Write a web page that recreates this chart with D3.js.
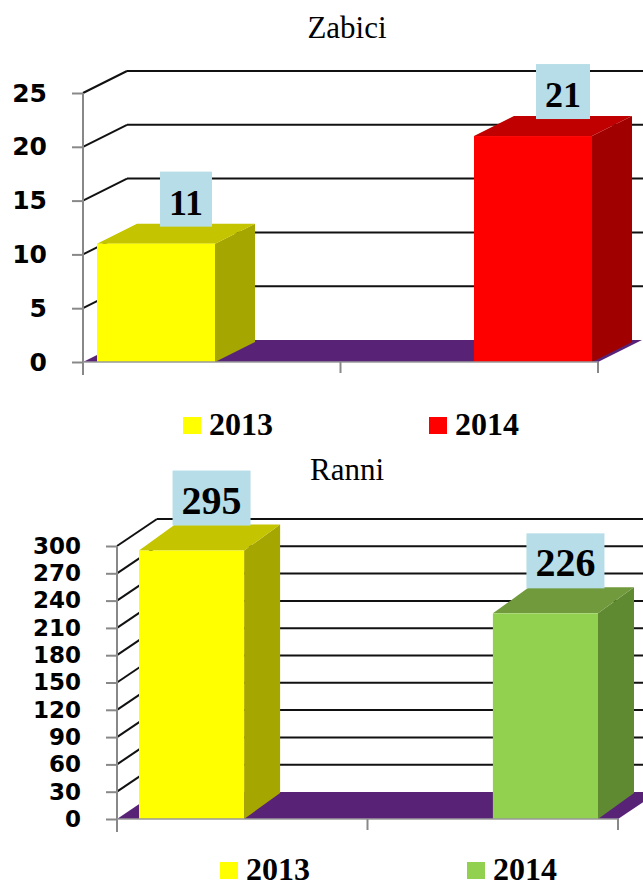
<!DOCTYPE html>
<html>
<head>
<meta charset="utf-8">
<script src="https://cdnjs.cloudflare.com/ajax/libs/d3/7.8.5/d3.min.js"></script>
<style>
  body { margin: 0; background: #fff; }
  svg { display: block; }
</style>
</head>
<body>
<svg id="chart" width="643" height="888"></svg>
<script>
var years = ['2013', '2014'];

var zabiciValues = [11, 21];
var zabiciTicks = [0, 5, 10, 15, 20, 25];
var zabiciColors = ['yellow', 'red'];

var ranniValues = [295, 226];
var ranniTicks = [0, 30, 60, 90, 120, 150, 180, 210, 240, 270, 300];
var ranniColors = ['yellow', 'green'];

// front / top / side shades for the 3d bars
var shades = {
  yellow : ['#ffff00', '#c4c400', '#a6a600'],
  red    : ['#ff0000', '#c00000', '#a00000'],
  green  : ['#92d050', '#709a3c', '#5f8a32']
};

var svg = d3.select('#chart');

buildBarChart({
  title : 'Zabici', titleY : 38,
  values : zabiciValues, ticks : zabiciTicks, colors : zabiciColors,
  left : 83, right : 598, bottom : 362, top : 93,
  wall : {dx : 44, dy : -22}, depth : {dx : 40, dy : -20},
  barLeft : 97, barRight : 592, padding : 0.687,
  labelSize : 36, labelShift : 30, labelGap : 17,
  tickSize : 25,
  legendY : 425, legendX : [183, 429]
});

buildBarChart({
  title : 'Ranni', titleY : 480,
  values : ranniValues, ticks : ranniTicks, colors : ranniColors,
  left : 117, right : 618, bottom : 819, top : 546,
  wall : {dx : 40, dy : -27}, depth : {dx : 36, dy : -26},
  barLeft : 139, barRight : 598, padding : 0.703,
  labelSize : 40, labelShift : 20, labelGap : 25,
  tickSize : 23,
  legendY : 870, legendX : [220, 467]
});

function buildBarChart(c) {
  var g = svg.append('g');
  var wall = c.wall, depth = c.depth;

  var y = d3.scaleLinear()
            .domain([0, d3.max(c.ticks)])
            .range([c.bottom, c.top]);

  var x = d3.scaleBand()
            .domain(years)
            .range([c.barLeft, c.barRight])
            .paddingInner(c.padding);

  g.append('text')
    .attr('x', 347)
    .attr('y', c.titleY)
    .attr('text-anchor', 'middle')
    .style('font', '31px "Liberation Serif", serif')
    .text(c.title);

  // back wall grid lines + side wall diagonals
  var grid = g.append('g');
  grid.selectAll('.back')
      .data(c.ticks.slice(1))
      .enter()
      .append('line')
      .attr('x1', c.left + wall.dx)
      .attr('x2', 643)
      .attr('y1', d => y(d) + wall.dy)
      .attr('y2', d => y(d) + wall.dy)
      .attr('stroke', '#111')
      .attr('stroke-width', 2);
  grid.selectAll('.side')
      .data(c.ticks.slice(1))
      .enter()
      .append('line')
      .attr('x1', c.left)
      .attr('x2', c.left + wall.dx)
      .attr('y1', d => y(d))
      .attr('y2', d => y(d) + wall.dy)
      .attr('stroke', '#111')
      .attr('stroke-width', 2);

  // floor
  g.append('path')
    .attr('d', 'M' + c.left + ',' + y(0) +
               'L' + c.right + ',' + y(0) +
               'L' + (c.right + wall.dx) + ',' + (y(0) + wall.dy) +
               'L' + (c.left + wall.dx) + ',' + (y(0) + wall.dy) + 'Z')
    .attr('fill', '#582377');

  // bars
  var bars = g.selectAll('.bar')
              .data(c.values)
              .enter()
              .append('g');

  bars.append('path')
      .attr('d', (d, i) => {
        var x1 = x(years[i]) + x.bandwidth();
        return 'M' + x1 + ',' + y(d) + 'L' + (x1 + depth.dx) + ',' + (y(d) + depth.dy) +
               'L' + (x1 + depth.dx) + ',' + (y(0) + depth.dy) + 'L' + x1 + ',' + y(0) + 'Z';
      })
      .attr('fill', (d, i) => shades[c.colors[i]][2]);

  bars.append('path')
      .attr('d', (d, i) => {
        var x0 = x(years[i]), x1 = x0 + x.bandwidth();
        return 'M' + x0 + ',' + y(d) + 'L' + x1 + ',' + y(d) +
               'L' + (x1 + depth.dx) + ',' + (y(d) + depth.dy) +
               'L' + (x0 + depth.dx) + ',' + (y(d) + depth.dy) + 'Z';
      })
      .attr('fill', (d, i) => shades[c.colors[i]][1]);

  bars.append('rect')
      .attr('x', (d, i) => x(years[i]))
      .attr('y', d => y(d))
      .attr('width', x.bandwidth())
      .attr('height', d => y(0) - y(d))
      .attr('fill', (d, i) => shades[c.colors[i]][0]);

  // axes
  var yAxis = d3.axisLeft(y)
                .tickValues(c.ticks)
                .tickSize(11)
                .tickPadding(25)
                .tickFormat(d3.format('d'));

  var ya = g.append('g')
            .attr('transform', 'translate(' + c.left + ',0)')
            .call(yAxis);
  ya.select('.domain').remove();
  ya.selectAll('line').attr('stroke', '#888').attr('stroke-width', 2);
  ya.selectAll('text')
    .attr('fill', '#000')
    .style('font', 'bold ' + c.tickSize + 'px "DejaVu Sans", sans-serif');

  g.append('line')
    .attr('x1', c.left).attr('x2', c.left)
    .attr('y1', c.top).attr('y2', c.bottom + 13)
    .attr('stroke', '#888').attr('stroke-width', 2);

  g.append('line')
    .attr('x1', c.left).attr('x2', c.right)
    .attr('y1', y(0)).attr('y2', y(0))
    .attr('stroke', '#999').attr('stroke-width', 1.5);

  g.selectAll('.xtick')
    .data([c.left + (c.right - c.left) / 2, c.right])
    .enter()
    .append('line')
    .attr('x1', d => d).attr('x2', d => d)
    .attr('y1', y(0)).attr('y2', y(0) + 11)
    .attr('stroke', '#888').attr('stroke-width', 2);

  // value labels
  var labels = bars.append('g')
                   .attr('transform', (d, i) => 'translate(' +
                     (x(years[i]) + x.bandwidth() / 2 + c.labelShift) + ',' + (y(d) - c.labelGap) + ')');

  labels.append('text')
        .attr('text-anchor', 'middle')
        .attr('y', -12)
        .style('font', 'bold ' + c.labelSize + 'px "Liberation Serif", serif')
        .text(d => d)
        .each(function() {
          var bb = this.getBBox();
          d3.select(this.parentNode)
            .insert('rect', 'text')
            .attr('x', -bb.width / 2 - 9)
            .attr('y', -55)
            .attr('width', bb.width + 18)
            .attr('height', 55)
            .attr('fill', '#b7dee8');
        });

  // legend
  var legend = g.selectAll('.legend')
                .data(years)
                .enter()
                .append('g')
                .attr('transform', (d, i) => 'translate(' + c.legendX[i] + ',' + c.legendY + ')');

  legend.append('rect')
        .attr('x', 0).attr('y', -8)
        .attr('width', 18).attr('height', 17)
        .attr('fill', (d, i) => shades[c.colors[i]][0]);

  legend.append('text')
        .attr('x', 26)
        .attr('y', 10)
        .style('font', 'bold 32px "Liberation Serif", serif')
        .text(d => d);
}
</script>
</body>
</html>
